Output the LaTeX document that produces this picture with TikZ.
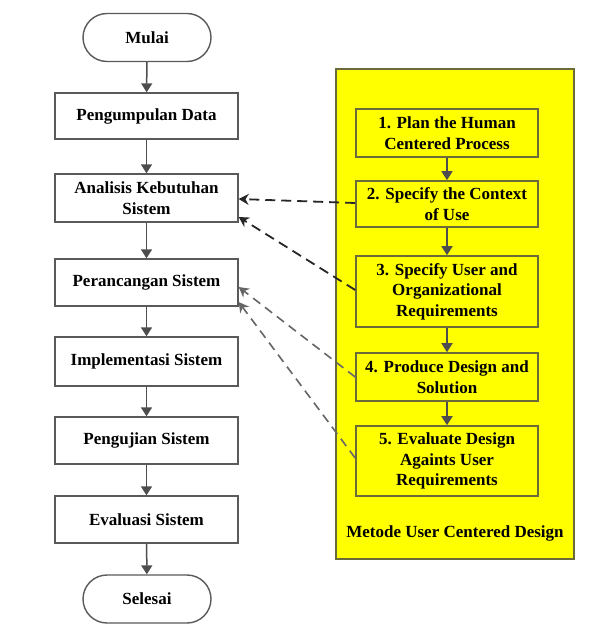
\documentclass[tikz,border=0pt]{standalone}
\usepackage{fontspec}
\setmainfont{Liberation Serif}
\usetikzlibrary{arrows.meta}
\definecolor{bordergray}{HTML}{5A5A5A}
\definecolor{arrowgray}{HTML}{4D4D4D}
\definecolor{ybox}{HTML}{FFFF00}
\definecolor{yborder}{HTML}{6B6B3A}
\begin{document}
\begin{tikzpicture}[x=1pt,y=-1pt,
  every node/.style={font=\fontsize{17}{20.5}\selectfont\bfseries, align=center, inner sep=0pt},
  procbox/.style={draw=bordergray, line width=1.4pt, fill=white, minimum width=183pt},
  termbox/.style={draw=bordergray, line width=1.4pt, fill=white, minimum width=128pt, minimum height=48pt, rounded corners=24pt},
  ucdbox/.style={draw=yborder, line width=1.6pt, fill=ybox, minimum width=182pt},
  flow/.style={draw=arrowgray, line width=1.5pt, -{Triangle[width=11pt,length=9pt]}},
  dashblack/.style={draw=black!85, line width=1.8pt, dash pattern=on 10pt off 6pt, -{Stealth[width=11pt,length=10pt]}},
  dashgray/.style={draw=black!60, line width=1.6pt, dash pattern=on 9pt off 6pt, -{Stealth[width=11pt,length=10pt]}}
]
\useasboundingbox[fill=white] (0,0) rectangle (601,628);

% yellow container
\node[draw=yborder, line width=1.6pt, fill=ybox, minimum width=238pt, minimum height=490pt] (ucd) at (455,314) {};
\node (ucdlabel) at (455,533) {Metode User Centered Design};

% left flow
\node[termbox] (mulai) at (147,37.5) {Mulai};
\node[procbox, minimum height=46pt] (pd) at (146.5,116) {Pengumpulan Data};
\node[procbox, minimum height=48pt] (ak) at (146.5,198) {Analisis Kebutuhan\\Sistem};
\node[procbox, minimum height=47pt] (ps) at (146.5,282.5) {Perancangan Sistem};
\node[procbox, minimum height=49pt] (is) at (146.5,361.5) {Implementasi Sistem};
\node[procbox, minimum height=47pt] (pgs) at (146.5,440.5) {Pengujian Sistem};
\node[procbox, minimum height=47pt] (es) at (146.5,519.5) {Evaluasi Sistem};
\node[termbox] (selesai) at (147,599) {Selesai};

\draw[flow] (mulai) -- (pd);
\draw[flow] (pd) -- (ak);
\draw[flow] (ak) -- (ps);
\draw[flow] (ps) -- (is);
\draw[flow] (is) -- (pgs);
\draw[flow] (pgs) -- (es);
\draw[flow] (es) -- (selesai);

% UCD steps
\node[ucdbox, minimum height=48pt] (b1) at (447,133) {1. Plan the Human\\Centered Process};
\node[ucdbox, minimum height=46pt] (b2) at (447,204) {2. Specify the Context\\of Use};
\node[ucdbox, minimum height=71pt] (b3) at (447,291.5) {3. Specify User and\\Organizational\\Requirements};
\node[ucdbox, minimum height=48pt] (b4) at (447,377) {4. Produce Design and\\Solution};
\node[ucdbox, minimum height=70pt] (b5) at (447,461) {5. Evaluate Design\\Againts User\\Requirements};

\draw[flow] (b1) -- (b2);
\draw[flow] (b2) -- (b3);
\draw[flow] (b3) -- (b4);
\draw[flow] (b4) -- (b5);

% dashed links
\draw[dashblack] ([yshift=1pt]b2.west) -- ([yshift=-1pt]ak.east);
\draw[dashblack] ([yshift=1.5pt]b3.west) -- ([yshift=-19pt]ak.east);
\draw[dashgray] (b4.west) -- ([yshift=-4.5pt]ps.east);
\draw[dashgray] ([yshift=3pt]b5.west) -- ([yshift=-19.5pt]ps.east);
\end{tikzpicture}
\end{document}
